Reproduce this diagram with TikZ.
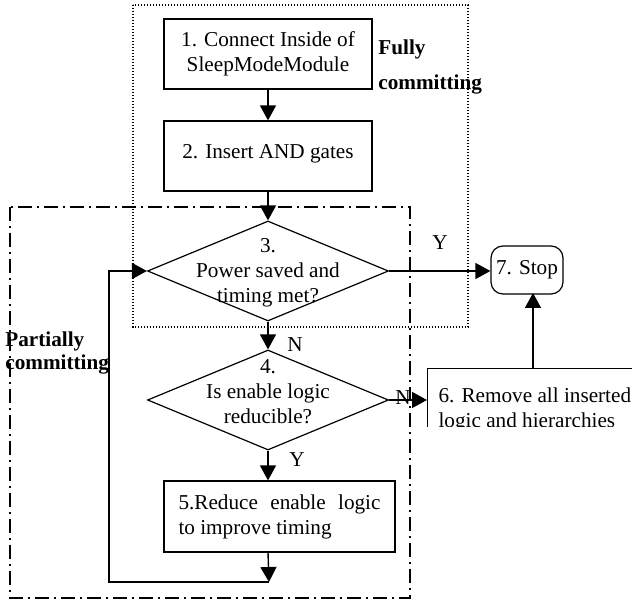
\documentclass[tikz,border=0pt]{standalone}
\usepackage{fontspec}
\setmainfont{Liberation Serif}
\usetikzlibrary{
	arrows.meta,
	positioning,
	shapes.geometric
}
\tikzset{
  % arrow
	cstra/.style      ={-{Triangle[length=7.5pt,width=8pt]}, line width=0.7pt}, % down/right arrow
  % frame
	cstdotted/.style  ={line width=0.6pt, dash pattern=on 0.6pt off 0.9pt},
	cstdashdot/.style ={line width=0.6pt, dash pattern=on 7pt off 2.5pt on 1pt off 2.5pt},
  % node
	cstnode/.style    ={draw=black, line width=0.6pt, minimum width=104pt, minimum height=35pt, align=center, inner sep=2pt},
	cstdia/.style     ={diamond, draw=black, line width=0.6pt, minimum width=120.5pt, minimum height=50pt, inner sep=0pt},
	cststop/.style    ={draw=black, line width=0.6pt, rounded corners=6pt, minimum width=36pt, minimum height=24pt, inner sep=1pt},
	csttext/.style    ={inner sep=0pt}
}
\begin{document}
\begin{tikzpicture}[x=0.5pt,y=-0.5pt,font=\fontsize{10.6pt}{12.5pt}\selectfont]
	\useasboundingbox (0,0) rectangle (632,608);
	% frames
	\draw[cstdotted] (133,5) rectangle (468,327);
	\draw[cstdashdot] (10,207) rectangle (410,598);
	\node[csttext, anchor=base west, align=left, font=\fontsize{10.6pt}{12.5pt}\selectfont\bfseries] (fullylbl) at (378,90) {Fully\\[5pt]committing};
	\node[csttext, anchor=base west, align=left, font=\fontsize{10.6pt}{12.5pt}\selectfont\bfseries] (partlbl) at (5,370) {Partially\\[-1pt]committing};
	% steps
	\node[cstnode] (b1) at (268,54) {1. Connect Inside of\\SleepModeModule};
	\node[cstnode, text depth=5pt] (b2) at (268,156) {2. Insert AND gates};
	\node[cstdia, label={[csttext, align=center, yshift=-1pt]center:{3.\\Power saved and\\timing met?}}] (d3) at (268,271) {};
	\node[cstdia, label={[csttext, align=center, yshift=4pt]center:{4.\\Is enable logic\\reducible?}}] (d4) at (268,400) {};
	\node[cstnode, minimum width=115.5pt, minimum height=35.5pt, text width=101pt, align=justify] (b5) at (279.5,516.5) {5.Reduce enable logic to improve timing};
	\node[cststop] (stop) at (527,270) {7. Stop};
	\begin{scope}
		\clip (0,0) rectangle (632,427);
		\node[cstnode, anchor=north west, minimum width=0pt, minimum height=41.5pt, inner xsep=5.5pt, align=left] (b6) at (427,368) {6. Remove all inserted\\logic and hierarchies};
	\end{scope}
	% answers
	\node[csttext] (yes3) at (440,243) {Y};
	\node[csttext] (no3) at (295,345) {N};
	\node[csttext] (yes4) at (297,460) {Y};
	\node[csttext] (no4) at (403,398) {N};
	% connectors
	\coordinate (loopend) at (269,582);
	\coordinate (loopleft) at (109,582);
	\coordinate (stopin) at (533,293);
	\draw[cstra] (b1) -- (b2);
	\draw[cstra] (b2) -- (d3);
	\draw[cstra] (d3) -- (d4);
	\draw[cstra] (d4.south) -- (d4.south |- b5.north);
	\draw[cstra] (b5.south -| d4.south) -- (loopend);
	\draw[cstra] (loopend) -- (loopleft) |- (d3.west);
	\draw[cstra] (d3.east) -- (d3.east -| stop.west);
	\draw[cstra] (d4.east) -- (d4.east -| b6.west);
	\draw[cstra] (stopin |- b6.north) -- (stopin);
\end{tikzpicture}
\end{document}
